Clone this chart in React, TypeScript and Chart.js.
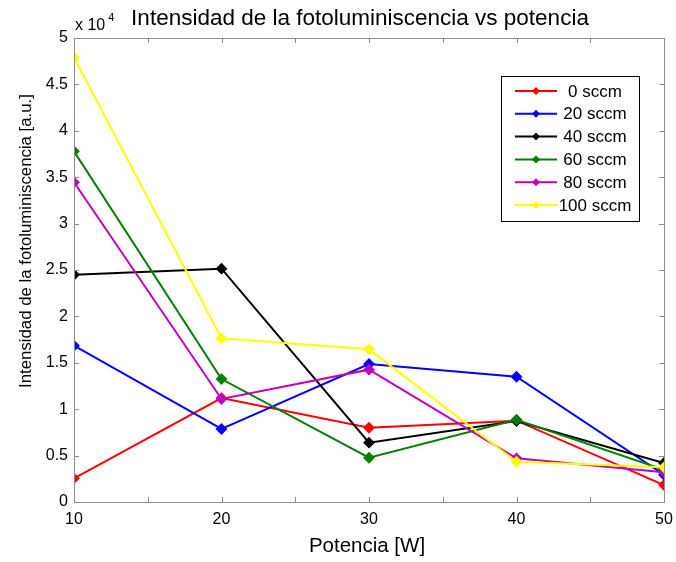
import React, { useEffect, useRef } from "react";
import { Chart, registerables } from "chart.js";

Chart.register(...registerables);

const potencia = [10, 20, 30, 40, 50];
const seriesNames = ["0 sccm", "20 sccm", "40 sccm", "60 sccm", "80 sccm", "100 sccm"];
const seriesColors = ["#ff0000", "#0000ff", "#000000", "#008000", "#bf00bf", "#ffff00"];
const s0 = [2550, 11200, 8000, 8760, 1830];
const s20 = [16840, 7870, 14870, 13500, 2940];
const s40 = [24490, 25140, 6390, 8730, 4200];
const s60 = [37790, 13250, 4770, 8870, 3480];
const s80 = [34450, 11100, 14260, 4710, 3200];
const s100 = [47900, 17640, 16450, 4340, 3740];
const seriesValues = [s0, s20, s40, s60, s80, s100];

const titleText = "Intensidad de la fotoluminiscencia vs potencia";
const xTitle = "Potencia [W]";
const yTitle = "Intensidad de la fotoluminiscencia [a.u.]";
const FONT = "'Liberation Sans', Arial, Helvetica, sans-serif";

const decorPlugin = {
  id: "decor",
  afterDraw(chart: any) {
    const { ctx, chartArea } = chart;
    const { left, right, top, bottom } = chartArea;
    const xs = chart.scales.x;
    const ys = chart.scales.y;
    ctx.save();
    // box
    ctx.strokeStyle = "#8c8c8c";
    ctx.lineWidth = 1;
    ctx.strokeRect(Math.round(left) + 0.5, Math.round(top) + 0.5, Math.round(right - left), Math.round(bottom - top));
    // ticks inward
    const tl = 5;
    ctx.beginPath();
    for (let v = 10; v <= 50; v += 5) {
      const px = Math.round(xs.getPixelForValue(v)) + 0.5;
      ctx.moveTo(px, bottom);
      ctx.lineTo(px, bottom - tl);
      ctx.moveTo(px, top);
      ctx.lineTo(px, top + tl);
    }
    for (let v = 0; v <= 50000; v += 5000) {
      const py = Math.round(ys.getPixelForValue(v)) + 0.5;
      ctx.moveTo(left, py);
      ctx.lineTo(left + tl, py);
      ctx.moveTo(right, py);
      ctx.lineTo(right - tl, py);
    }
    ctx.stroke();

    // title
    ctx.fillStyle = "#000";
    ctx.textAlign = "center";
    ctx.textBaseline = "alphabetic";
    ctx.font = `22.5px ${FONT}`;
    ctx.fillText(titleText, 360, 25);

    // exponent
    ctx.textAlign = "left";
    ctx.font = `16px ${FONT}`;
    ctx.fillText("x 10", 75, 30);
    const w = ctx.measureText("x 10").width;
    ctx.font = `11px ${FONT}`;
    ctx.fillText("4", 75 + w + 3, 21);

    // x title
    ctx.textAlign = "center";
    ctx.font = `20.5px ${FONT}`;
    ctx.fillText(xTitle, 367, 552);

    // y title
    ctx.save();
    ctx.translate(31, 241);
    ctx.rotate(-Math.PI / 2);
    ctx.font = `16.8px ${FONT}`;
    ctx.textAlign = "center";
    ctx.fillText(yTitle, 0, 0, 294);
    ctx.restore();

    // legend
    const bx = 501, by = 76, bw = 138, bh = 145;
    ctx.fillStyle = "#fff";
    ctx.fillRect(bx, by, bw, bh);
    ctx.strokeStyle = "#000";
    ctx.lineWidth = 1;
    ctx.strokeRect(bx + 0.5, by + 0.5, bw, bh);
    ctx.font = `17px ${FONT}`;
    ctx.textBaseline = "middle";
    for (let i = 0; i < seriesNames.length; i++) {
      const y = 91 + i * 22.8;
      const c = seriesColors[i];
      ctx.strokeStyle = c;
      ctx.lineWidth = 2;
      ctx.beginPath();
      ctx.moveTo(515, y);
      ctx.lineTo(557, y);
      ctx.stroke();
      ctx.fillStyle = c;
      ctx.beginPath();
      ctx.moveTo(536, y - 4);
      ctx.lineTo(540, y);
      ctx.lineTo(536, y + 4);
      ctx.lineTo(532, y);
      ctx.closePath();
      ctx.fill();
      ctx.fillStyle = "#000";
      ctx.textAlign = "center";
      ctx.fillText(seriesNames[i], 595, y + 1);
    }
    ctx.restore();
  },
};

export default function App() {
  const ref = useRef<HTMLCanvasElement | null>(null);
  useEffect(() => {
    if (!ref.current) return;
    const n = seriesNames.length;
    const chart = new Chart(ref.current, {
      type: "line",
      data: {
        datasets: seriesNames.map((name, i) => ({
          label: name,
          data: potencia.map((x, j) => ({ x, y: seriesValues[i][j] })),
          borderColor: seriesColors[i],
          backgroundColor: seriesColors[i],
          pointBackgroundColor: seriesColors[i],
          pointBorderColor: seriesColors[i],
          pointStyle: "rectRot",
          pointRadius: 4.5,
          borderWidth: 2,
          tension: 0,
          order: n - i,
        })),
      },
      options: {
        animation: false,
        responsive: false,
        devicePixelRatio: 1,
        layout: { padding: { left: 0, top: 38, right: 12, bottom: 0 } },
        plugins: { legend: { display: false }, title: { display: false }, tooltip: { enabled: false } },
        scales: {
          x: {
            type: "linear",
            min: 10,
            max: 50,
            grid: { display: false, drawTicks: false },
            border: { display: false },
            ticks: {
              stepSize: 10,
              padding: 8,
              color: "#000",
              font: { family: FONT, size: 16 },
              maxRotation: 0,
            },
            afterFit: (s: any) => {
              s.height = 60;
              s.paddingLeft = 0;
              s.paddingRight = 0;
            },
          },
          y: {
            min: 0,
            max: 50000,
            grid: { display: false, drawTicks: false },
            border: { display: false },
            ticks: {
              stepSize: 5000,
              padding: 6,
              color: "#000",
              font: { family: FONT, size: 16 },
              callback: (v: any) => String(Number(v) / 10000),
            },
            afterFit: (s: any) => {
              s.width = 74;
              s.paddingTop = 0;
              s.paddingBottom = 0;
            },
          },
        },
      },
      plugins: [decorPlugin],
    } as any);
    return () => chart.destroy();
  }, []);
  return (
    <div style={{ position: "absolute", left: 0, top: 0, width: 676, height: 562, background: "#fff" }}>
      <canvas ref={ref} width={676} height={562} style={{ width: 676, height: 562, display: "block" }} />
    </div>
  );
}
